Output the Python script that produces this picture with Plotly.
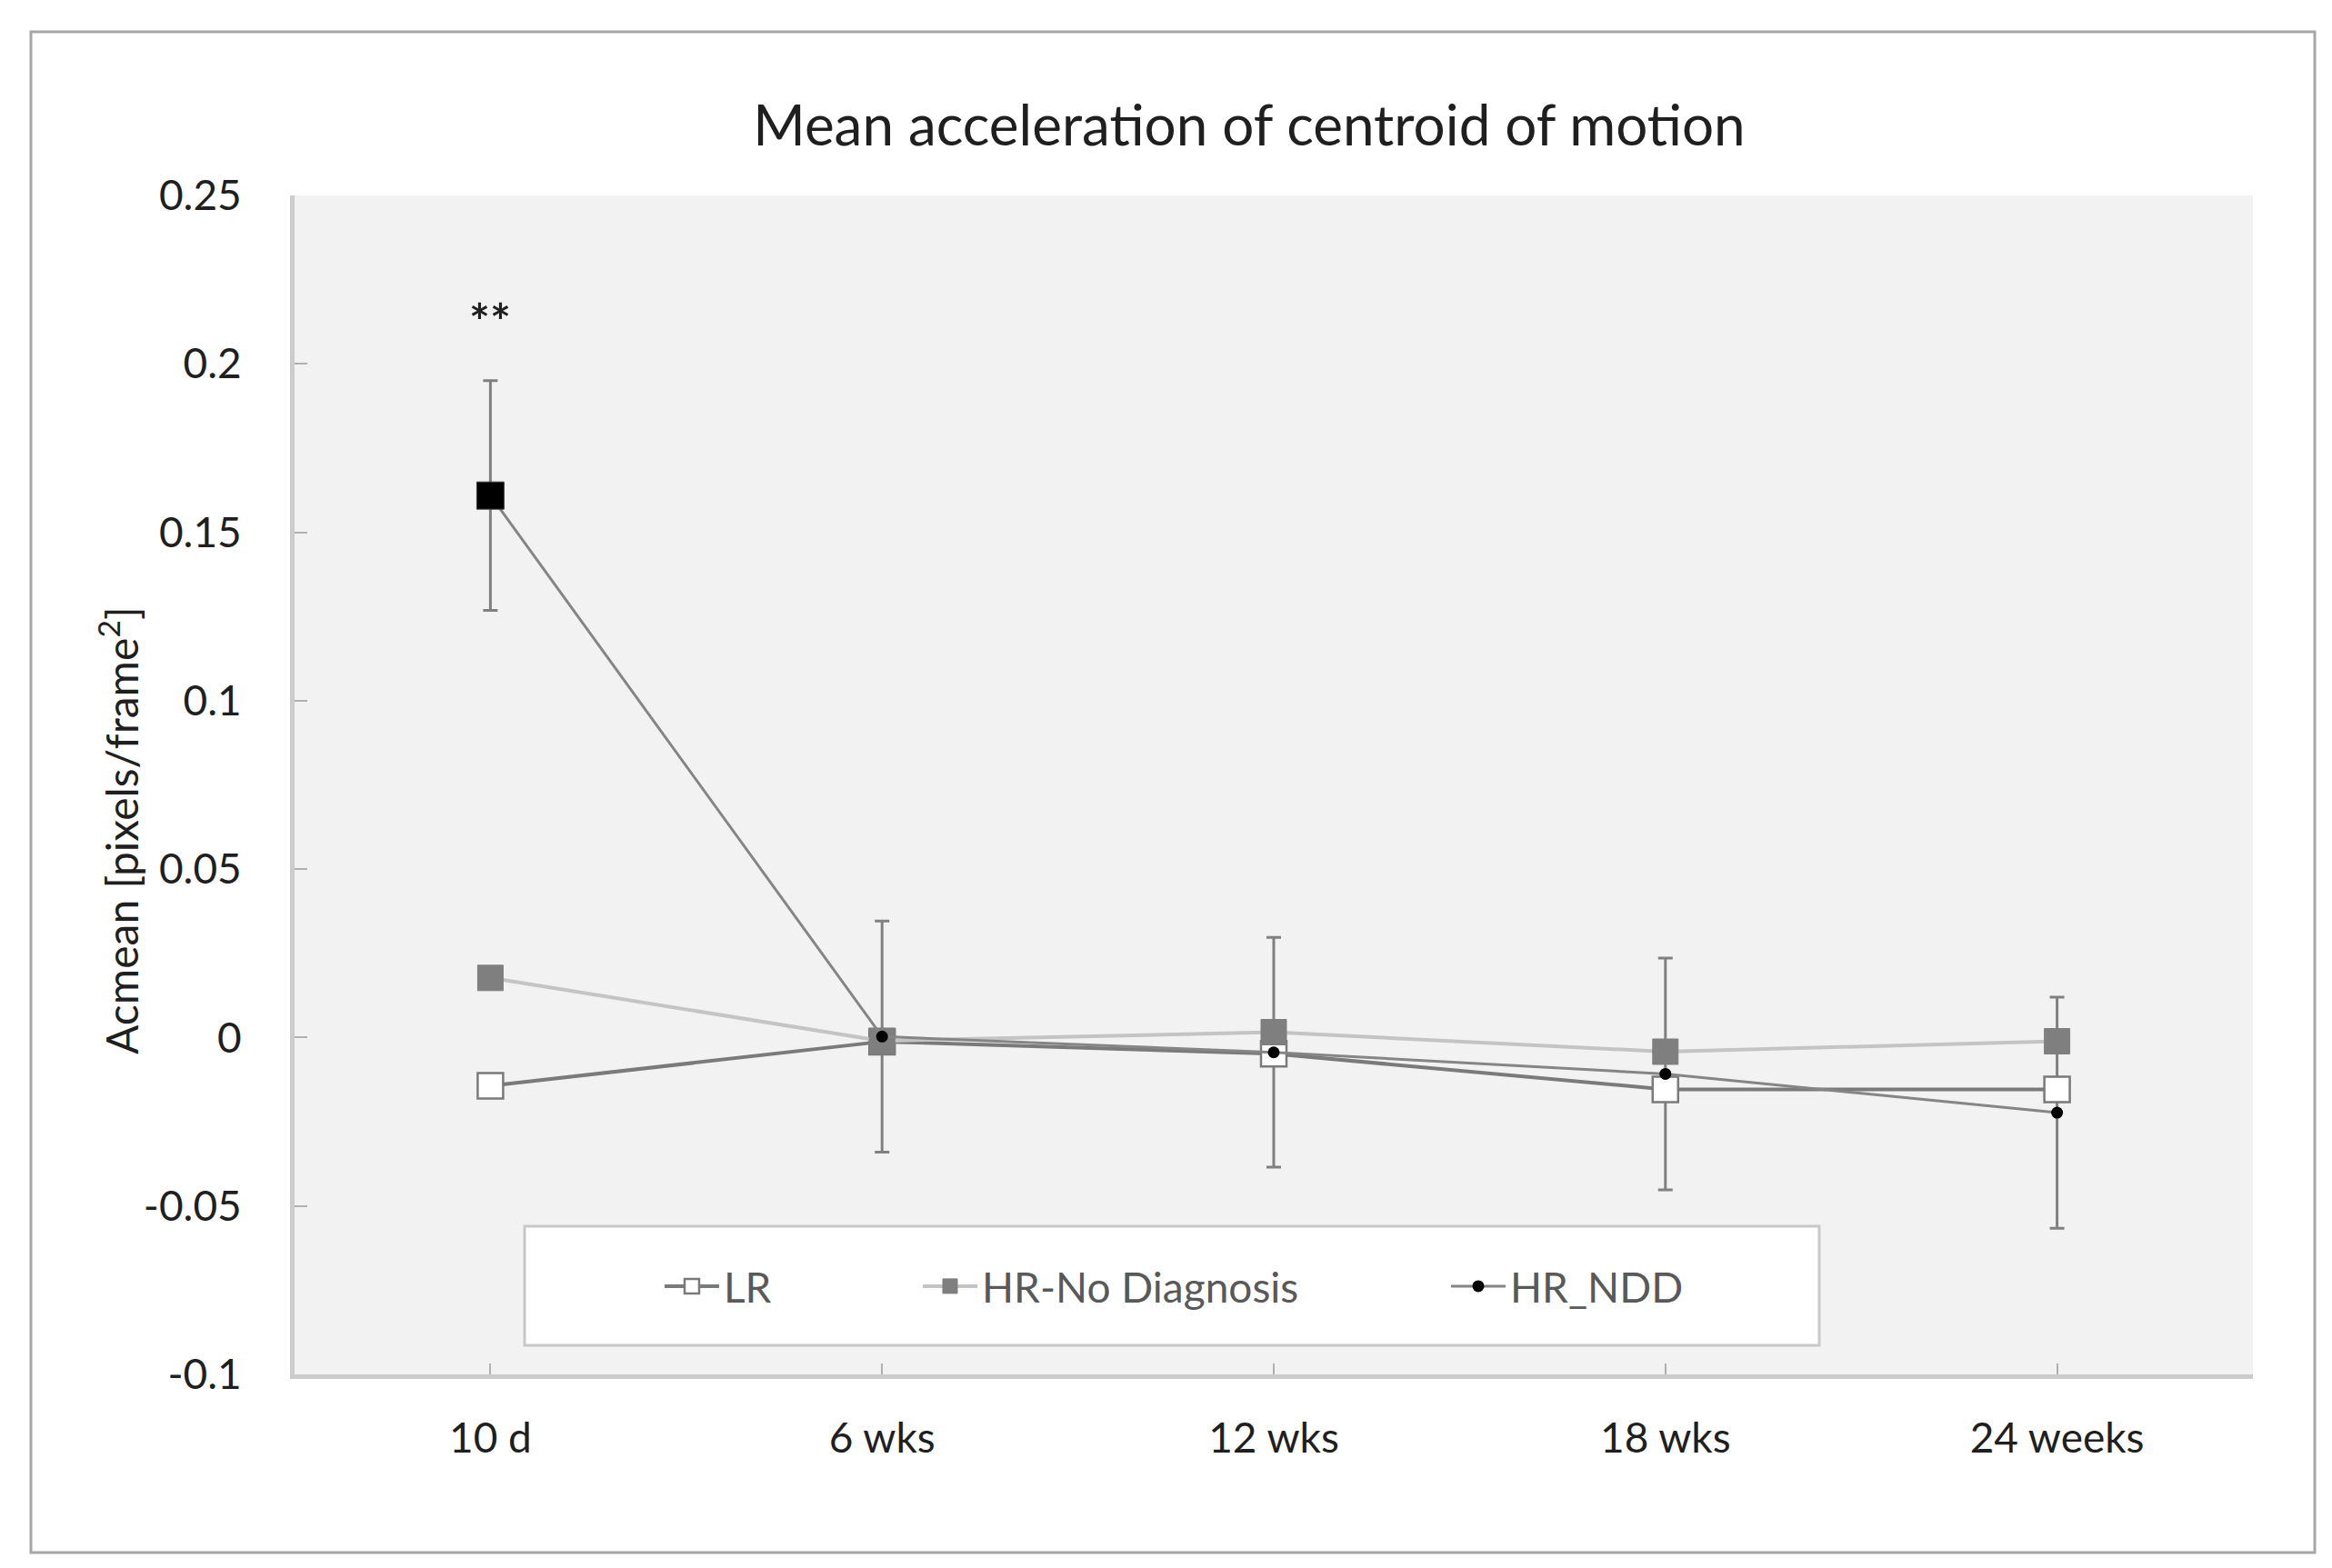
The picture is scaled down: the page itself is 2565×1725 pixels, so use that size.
import plotly.graph_objects as go

# ---- data ----
categories = ["10 d", "6 wks", "12 wks", "18 wks", "24 weeks"]
lr = [-0.0143, -0.0012, -0.0048, -0.0154, -0.0154]
hr_no_diag = [0.0177, -0.0010, 0.0016, -0.0042, -0.0011]
hr_ndd = [0.1609, 0.0003, -0.0044, -0.0108, -0.0223]
hr_ndd_err = [0.0341, 0.0343, 0.0341, 0.0344, 0.0343]
y_ticks = [-0.1, -0.05, 0, 0.05, 0.1, 0.15, 0.2, 0.25]
y_tick_text = ["-0.1", "-0.05", "0", "0.05", "0.1", "0.15", "0.2", "0.25"]

# ---- layout geometry (pixels) ----
FW, FH = 2565, 1725
L, R, T, B = 316, 2470, 207, 1504
PW, PH = R - L, B - T


def px_x(p):
    return (p - L) / PW


def px_y(p):
    return (B - p) / PH


FONT = "Lato"
TXT = "#1f1f1f"

fig = go.Figure()

# error bars for HR_NDD (drawn first, behind markers)
fig.add_trace(go.Scatter(
    x=categories, y=hr_ndd, mode="markers",
    marker=dict(size=1, color="rgba(0,0,0,0)"),
    error_y=dict(type="data", array=hr_ndd_err, visible=True,
                 color="#808080", thickness=3, width=8),
    showlegend=False, hoverinfo="skip"))

fig.add_trace(go.Scatter(
    x=categories, y=lr, mode="lines+markers", name="LR",
    line=dict(color="#7a7a7a", width=4),
    marker=dict(symbol="square", size=28, color="white",
                line=dict(color="#7a7a7a", width=2.5)),
    legend="legend"))

fig.add_trace(go.Scatter(
    x=categories, y=hr_no_diag, mode="lines+markers", name="HR-No Diagnosis",
    line=dict(color="#c4c4c4", width=4),
    marker=dict(symbol="square", size=28, color="#7f7f7f",
                line=dict(color="#7f7f7f", width=1)),
    legend="legend2"))

fig.add_trace(go.Scatter(
    x=categories, y=hr_ndd, mode="lines+markers", name="HR_NDD",
    line=dict(color="#858585", width=3),
    marker=dict(symbol="circle", size=13, color="black"),
    legend="legend3"))

# highlighted (significant) point of HR_NDD at 10 d
fig.add_trace(go.Scatter(
    x=categories[:1], y=hr_ndd[:1], mode="markers",
    marker=dict(symbol="square", size=30, color="black",
                line=dict(color="#404040", width=1)),
    showlegend=False, hoverinfo="skip"))

leg_common = dict(orientation="h", bgcolor="rgba(0,0,0,0)", borderwidth=0,
                  font=dict(family=FONT, size=46, color="#595959"),
                  yanchor="middle", xanchor="left", itemwidth=60,
                  itemsizing="trace", y=px_y(1407))

fig.update_layout(
    width=FW, height=FH,
    margin=dict(l=L, r=FW - R, t=T, b=FH - B, autoexpand=False),
    paper_bgcolor="white", plot_bgcolor="#f2f2f2",
    font=dict(family=FONT, color=TXT),
    title=dict(text="Mean acceleration of centroid of motion",
               x=1366 / FW, xref="container", xanchor="center",
               y=1 - 130 / FH, yref="container", yanchor="middle",
               font=dict(family=FONT, size=62, color=TXT)),
    xaxis=dict(type="category", categoryorder="array", categoryarray=categories,
               range=[-0.5, 4.5], showgrid=False, zeroline=False,
               showline=True, linecolor="#cccccc", linewidth=5,
               ticks="inside", ticklen=12, tickcolor="#b0b0b0", tickwidth=2,
               ticklabelstandoff=26,
               tickfont=dict(family=FONT, size=46, color=TXT)),
    yaxis=dict(range=[-0.1, 0.25], tickvals=y_ticks, ticktext=y_tick_text,
               showgrid=False, zeroline=False,
               showline=True, linecolor="#cccccc", linewidth=5,
               ticks="inside", ticklen=14, tickcolor="#b0b0b0", tickwidth=2,
               ticklabelstandoff=44,
               tickfont=dict(family=FONT, size=46, color=TXT)),
    legend=dict(leg_common, x=px_x(718)),
    legend2=dict(leg_common, x=px_x(1002)),
    legend3=dict(leg_common, x=px_x(1583)),
    shapes=[
        # legend box
        dict(type="rect", xref="paper", yref="paper",
             x0=px_x(569), x1=px_x(1993), y0=px_y(1472), y1=px_y(1341),
             fillcolor="white", line=dict(color="#c8c8c8", width=3),
             layer="above"),
        # outer chart border
        dict(type="rect", xref="paper", yref="paper",
             x0=px_x(26), x1=px_x(2538), y0=px_y(1700), y1=px_y(27),
             fillcolor="rgba(0,0,0,0)", line=dict(color="#a6a6a6", width=3),
             layer="below"),
    ],
    annotations=[
        dict(text="<b>**</b>", x=categories[0],
             y=hr_ndd[0] + hr_ndd_err[0] + 0.018,
             xref="x", yref="y", showarrow=False, yanchor="middle",
             font=dict(family=FONT, size=54, color=TXT)),
        dict(text="Acmean [pixels/frame<sup>2</sup>]", textangle=-90,
             x=px_x(123), y=px_y(906), xref="paper", yref="paper",
             showarrow=False, xanchor="center", yanchor="middle",
             font=dict(family=FONT, size=48, color=TXT)),
    ],
)

fig.write_html("out.html")
